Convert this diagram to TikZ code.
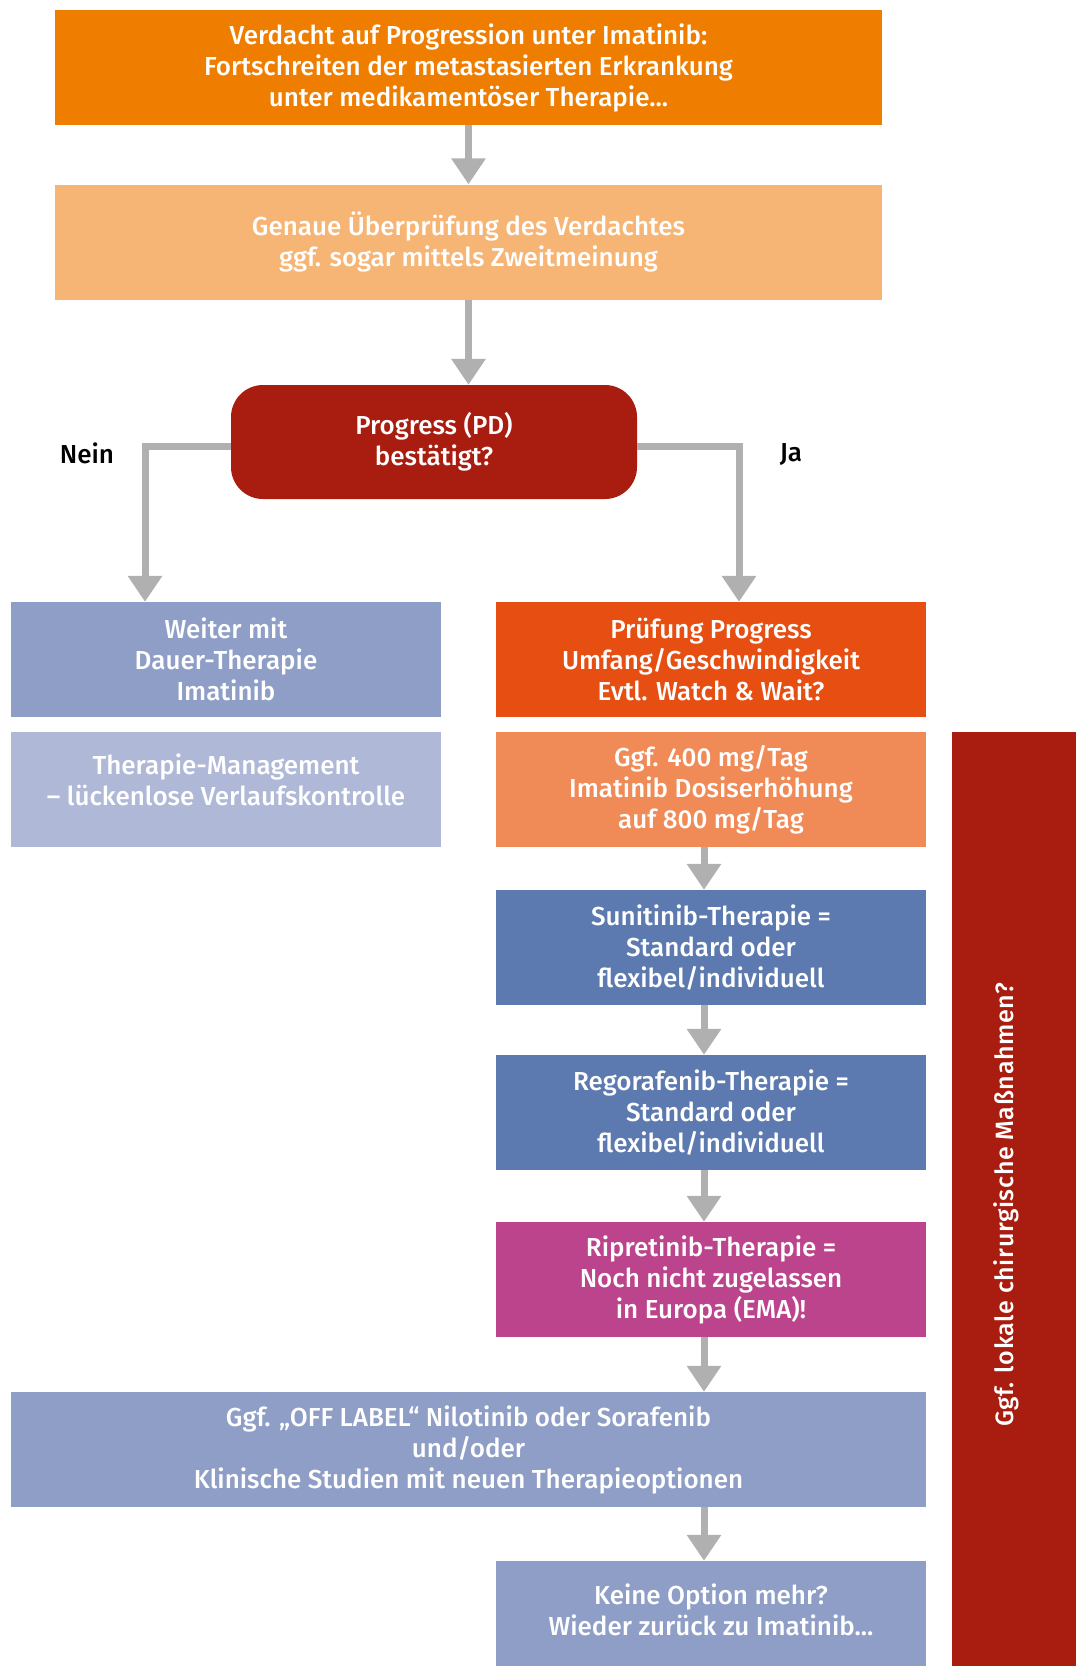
\documentclass[tikz,border=0pt]{standalone}
\usepackage{fontspec}
\setmainfont{Fira Sans}[UprightFont=* Medium,BoldFont=* SemiBold]
\newfontfamily\barfont{Fira Sans}[UprightFont=* Medium,LetterSpace=2.5]
\usetikzlibrary{arrows.meta}
\definecolor{verdachtorange}{HTML}{EF7D00}
\definecolor{pruefhell}{HTML}{F6B574}
\definecolor{progressrot}{HTML}{A91D10}
\definecolor{imatblau}{HTML}{8E9EC6}
\definecolor{imathell}{HTML}{B0B8D8}
\definecolor{progressorange}{HTML}{E64E12}
\definecolor{dosislachs}{HTML}{F08A56}
\definecolor{tkiblau}{HTML}{5C7AAF}
\definecolor{ripremagenta}{HTML}{BC448D}
\definecolor{pfeilgrau}{HTML}{B0B0B0}

\begin{document}
\begin{tikzpicture}[x=1pt,y=-1pt,
    box/.style={rectangle,fill=#1,text=white,align=center,inner sep=0pt,
      minimum height=115pt,font=\fontsize{26}{31}\selectfont},
    boxtext/.style={text=white,align=center,inner sep=0pt,font=\fontsize{26}{31}\selectfont},
    arr/.style={draw=pfeilgrau,line width=7pt,-{Triangle[width=33pt,length=26pt]}},
    antwort/.style={text=black,font=\fontsize{26}{31}\selectfont}]
    \useasboundingbox (0,0) rectangle (1076,1666);

    \node[box=verdachtorange,minimum width=827pt] (verdacht) at (468.5,67.5)
      {Verdacht auf Progression unter Imatinib:\\Fortschreiten der metastasierten Erkrankung\\unter medikamentöser Therapie...};
    \node[box=pruefhell,minimum width=827pt] (pruefung) at (468.5,242)
      {Genaue Überprüfung des Verdachtes\\ggf. sogar mittels Zweitmeinung};
    \node[box=progressrot,minimum width=406pt,minimum height=114pt,rounded corners=32pt] (progress) at (434,442)
      {Progress (PD)\\bestätigt?};

    \node[box=imatblau,minimum width=430pt] (weiter) at (226,659.5)
      {Weiter mit\\Dauer-Therapie\\Imatinib};
    \node[box=imathell,minimum width=430pt] (management) at (226,789.5) {};
    \node[boxtext] (managementtext) at ([yshift=10pt]management.center)
      {Therapie-Management\\-- lückenlose Verlaufskontrolle};

    \node[box=progressorange,minimum width=430pt] (umfang) at (711,659.5)
      {Prüfung Progress\\Umfang/Geschwindigkeit\\Evtl. Watch \& Wait?};
    \node[box=dosislachs,minimum width=430pt] (dosis) at (711,789.5)
      {Ggf. 400 mg/Tag\\Imatinib Dosiserhöhung\\auf 800 mg/Tag};
    \node[box=tkiblau,minimum width=430pt] (sunitinib) at (711,947.5)
      {Sunitinib-Therapie =\\Standard oder\\flexibel/individuell};
    \node[box=tkiblau,minimum width=430pt] (regorafenib) at (711,1112.5)
      {Regorafenib-Therapie =\\Standard oder\\flexibel/individuell};
    \node[box=ripremagenta,minimum width=430pt] (ripretinib) at (711,1279.5)
      {Ripretinib-Therapie =\\Noch nicht zugelassen\\in Europa (EMA)!};
    \node[box=imatblau,minimum width=915pt] (offlabel) at (468.5,1449.5)
      {Ggf. „OFF LABEL“ Nilotinib oder Sorafenib\\und/oder\\Klinische Studien mit neuen Therapieoptionen};
    \node[box=imatblau,minimum width=430pt,minimum height=105pt] (keine) at (711,1613.5) {};
    \node[boxtext] (keinetext) at ([yshift=4pt]keine.center)
      {Keine Option mehr?\\Wieder zurück zu Imatinib...};

    \node[fill=progressrot,minimum width=124pt,minimum height=934pt,inner sep=0pt] (chirurgie) at (1014,1199) {};
    \node[rotate=90,text=white,inner sep=0pt,font=\barfont\fontsize{25}{30}\selectfont] (chirtext) at (1006,1205)
      {Ggf. lokale chirurgische Maßnahmen?};

    \node[antwort] (nein) at (87,453) {Nein};
    \node[antwort] (ja) at (791,455) {Ja};

    \coordinate (rechts) at (704,0);

    \draw[arr] (verdacht) -- (pruefung);
    \draw[arr] (pruefung.south) -- (pruefung.south |- progress.north);
    \draw[arr] ([yshift=-4pt]progress.west) -| ([xshift=-81pt]weiter.north);
    \draw[arr] ([yshift=-4pt]progress.east) -| ([xshift=28pt]umfang.north);
    \foreach \von/\nach in {dosis/sunitinib,sunitinib/regorafenib,regorafenib/ripretinib,ripretinib/offlabel,offlabel/keine}
      \draw[arr] (rechts |- \von.south) -- (rechts |- \nach.north);
\end{tikzpicture}
\end{document}
